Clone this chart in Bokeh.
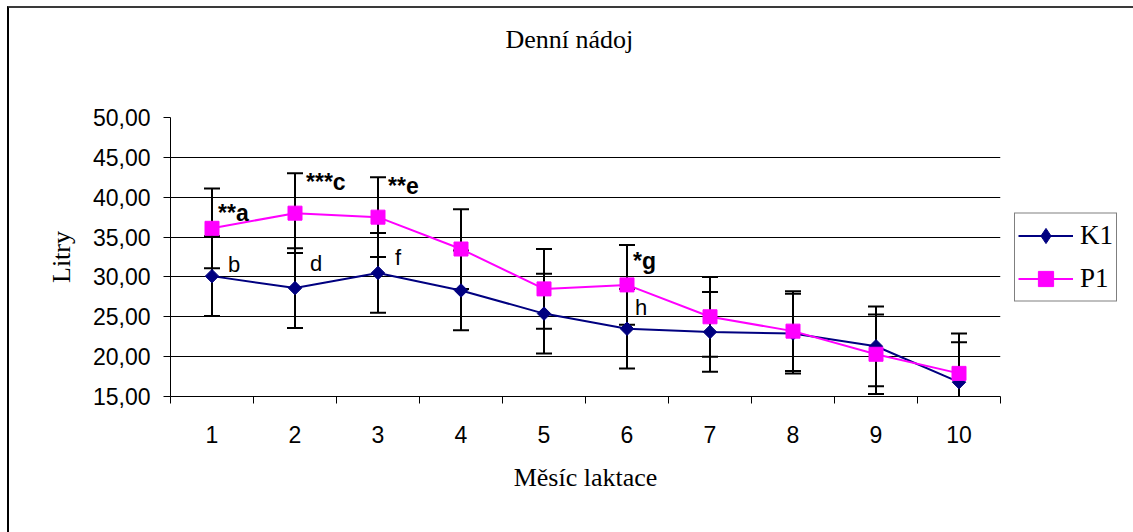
import math
from bokeh.plotting import figure
from bokeh.models import (ColumnDataSource, Whisker, TeeHead, FixedTicker, Legend,
                          LegendItem, Range1d, Title)
from bokeh.embed import file_html
from bokeh.resources import INLINE
from bokeh.core.properties import value

# ---------------- data ----------------
months = [1, 2, 3, 4, 5, 6, 7, 8, 9, 10]
k1 = [30.1, 28.6, 30.5, 28.3, 25.4, 23.5, 23.1, 22.9, 21.3, 16.8]
k1_err = [5.0, 5.0, 5.0, 5.0, 5.0, 5.0, 5.0, 5.0, 5.0, 5.0]
p1 = [36.1, 38.0, 37.5, 33.5, 28.5, 29.0, 25.0, 23.2, 20.3, 17.9]
p1_err = [5.0, 5.0, 5.0, 5.0, 5.0, 5.0, 5.0, 5.0, 5.0, 5.0]
y_ticks = [15, 20, 25, 30, 35, 40, 45, 50]
y_tick_labels = ["15,00", "20,00", "25,00", "30,00", "35,00", "40,00", "45,00", "50,00"]
x_tick_labels = ["1", "2", "3", "4", "5", "6", "7", "8", "9", "10"]

ann_text = ["**a", "b", "***c", "d", "**e", "f", "*g", "h"]
ann_month = [1, 1, 2, 2, 3, 3, 6, 6]
ann_y = [38.0, 31.6, 41.9, 31.7, 41.35, 32.5, 32.05, 26.2]
ann_bold = [True, False, True, False, True, False, True, False]

title_text = "Denní nádoj"
x_title = "Měsíc laktace"
y_title = "Litry"

# ---------------- figure ----------------
p = figure(width=1124, height=524, frame_width=830, frame_height=279,
           x_range=Range1d(0.5, 10.5), y_range=Range1d(15, 50),
           output_backend="svg", toolbar_location=None,
           min_border_left=161, min_border_right=133, min_border_top=109, min_border_bottom=136)
p.styles = {"margin-left": "7px", "margin-top": "6px",
            "border-left": "2px solid #000000", "border-top": "2px solid #3a3a3a"}
p.outline_line_color = None
p.background_fill_color = "white"
p.border_fill_color = "white"

# spacer between frame and title (pushes the title up)
p.add_layout(Title(text=" ", text_font_size="1px", standoff=61), "above")

p.title.text = title_text
p.title.text_font = "Liberation Serif"
p.title.text_font_size = "26px"
p.title.text_font_style = "normal"
p.title.text_color = "black"
p.title.align = "left"
p.title.vertical_align = "bottom"
p.title.offset = 335
p.title.standoff = 0

p.xgrid.visible = False
p.ygrid.ticker = FixedTicker(ticks=y_ticks)
p.ygrid.grid_line_color = "black"
p.ygrid.grid_line_width = 1

# y axis
yax = p.yaxis[0]
yax.ticker = FixedTicker(ticks=y_ticks, minor_ticks=[])
yax.major_label_overrides = {t: l for t, l in zip(y_ticks, y_tick_labels)}
yax.major_tick_out = 7
yax.major_tick_in = 0
yax.minor_tick_out = 0
yax.minor_tick_in = 0
yax.major_label_standoff = 13
yax.major_label_text_font = "Liberation Sans"
yax.major_label_text_font_size = "23px"
yax.major_label_text_color = "black"
yax.axis_line_color = "black"
yax.major_tick_line_color = "black"
yax.axis_label = y_title
yax.axis_label_text_font = "Liberation Serif"
yax.axis_label_text_font_size = "26px"
yax.axis_label_text_font_style = "normal"
yax.axis_label_text_color = "black"
yax.axis_label_standoff = 14

# x axis
xax = p.xaxis[0]
xax.ticker = FixedTicker(ticks=months, minor_ticks=[m - 0.5 for m in months] + [months[-1] + 0.5])
xax.major_label_overrides = {m: l for m, l in zip(months, x_tick_labels)}
xax.major_tick_out = 0
xax.major_tick_in = 0
xax.minor_tick_out = 7
xax.minor_tick_in = 0
xax.minor_tick_line_color = "black"
xax.major_label_standoff = 22
xax.major_label_text_font = "Liberation Sans"
xax.major_label_text_font_size = "23px"
xax.major_label_text_color = "black"
xax.axis_line_color = "black"
xax.axis_label = x_title
xax.axis_label_text_font = "Liberation Serif"
xax.axis_label_text_font_size = "26px"
xax.axis_label_text_font_style = "normal"
xax.axis_label_text_color = "black"
xax.axis_label_standoff = 17

# error bars
for vals, errs in ((k1, k1_err), (p1, p1_err)):
    src = ColumnDataSource(dict(x=months,
                                upper=[v + e for v, e in zip(vals, errs)],
                                lower=[v - e for v, e in zip(vals, errs)]))
    w = Whisker(base="x", upper="upper", lower="lower", source=src,
                line_color="black", line_width=2,
                upper_head=TeeHead(size=16, line_color="black", line_width=2),
                lower_head=TeeHead(size=16, line_color="black", line_width=2))
    p.add_layout(w)

# series
navy = "#000080"
pink = "#FF00FF"
k1_line = p.line(months, k1, line_color=navy, line_width=2)
k1_pts = p.scatter(months, k1, marker="square", angle=math.pi / 4, size=9.5,
                   fill_color=navy, line_color=navy)
p1_line = p.line(months, p1, line_color=pink, line_width=2)
p1_pts = p.scatter(months, p1, marker="square", size=14, fill_color=pink, line_color=pink)
# diamond symbol used only as the legend key of K1
k1_key = p.scatter(months, k1, marker="diamond", fill_color=navy, line_color=navy,
                   visible=False)

# significance annotations
ann_dx = [6, 16, 11, 15, 10, 17, 6, 8]
for bold in (True, False):
    idx = [i for i, b in enumerate(ann_bold) if b == bold]
    src = ColumnDataSource(dict(x=[ann_month[i] for i in idx],
                                y=[ann_y[i] for i in idx],
                                t=[ann_text[i] for i in idx],
                                dx=[ann_dx[i] for i in idx]))
    p.text(x="x", y="y", text="t", x_offset="dx", source=src,
           text_font=value("Liberation Sans"),
           text_font_size="23px" if bold else "22px",
           text_font_style="bold" if bold else "normal",
           text_color="black", text_align="left", text_baseline="alphabetic")

legend = Legend(items=[LegendItem(label="K1", renderers=[k1_line, k1_key]),
                       LegendItem(label="P1", renderers=[p1_line, p1_pts])],
                location="left", orientation="vertical")
legend.border_line_color = "black"
legend.border_line_width = 1
legend.background_fill_color = "white"
legend.background_fill_alpha = 1
legend.inactive_fill_alpha = 0
legend.label_text_font = "Liberation Serif"
legend.label_text_font_size = "27px"
legend.label_text_color = "black"
legend.glyph_width = 55
legend.glyph_height = 38
legend.label_height = 38
legend.label_standoff = 7
legend.spacing = 5
legend.padding = 3
legend.margin = 14
p.add_layout(legend, "right")

open("out.html", "w").write(file_html(p, INLINE))
